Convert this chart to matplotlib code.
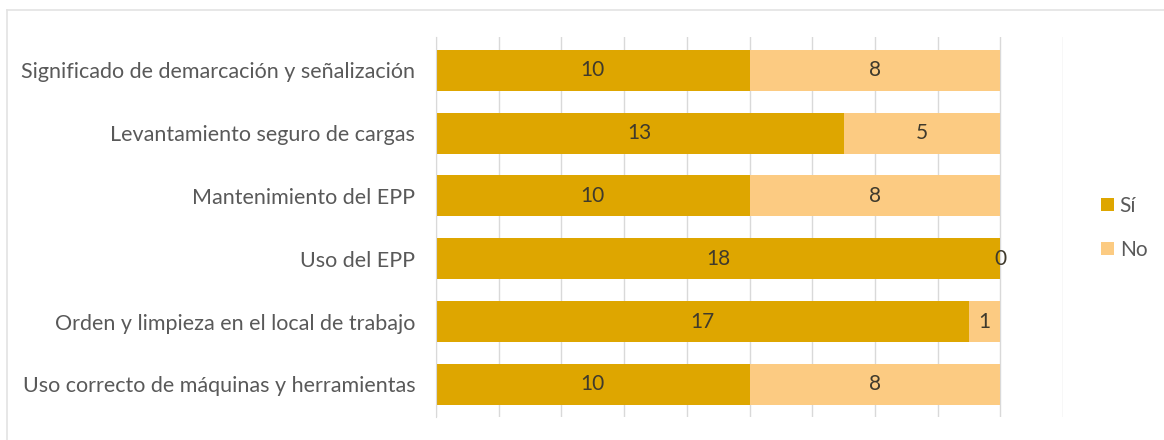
import matplotlib
matplotlib.use("Agg")
import matplotlib.pyplot as plt
from matplotlib.lines import Line2D
from matplotlib.patches import Patch
import numpy as np

categories = [
    "Significado de demarcación y señalización",
    "Levantamiento seguro de cargas",
    "Mantenimiento del EPP",
    "Uso del EPP",
    "Orden y limpieza en el local de trabajo",
    "Uso correcto de máquinas y herramientas",
]
si_values = [10, 13, 10, 18, 17, 10]
no_values = [8, 5, 8, 0, 1, 8]
series_names = ["Sí", "No"]

SI_COLOR = "#DEA600"
NO_COLOR = "#FCCB82"
TEXT_GRAY = "#595959"
VALUE_COLOR = "#3F3A2C"
GRID_COLOR = "#D9D9D9"

plt.rcParams["font.family"] = ["Lato", "DejaVu Sans"]

fig = plt.figure(figsize=(11.64, 4.40), dpi=100)
ax = fig.add_axes([436 / 1164, 23 / 440, 627 / 1164, 380 / 440])

y = np.arange(len(categories))
bar_h = 0.65
si = np.array(si_values)
no = np.array(no_values)

ax.barh(y, si, height=bar_h, color=SI_COLOR, label=series_names[0], zorder=2)
ax.barh(y, no, left=si, height=bar_h, color=NO_COLOR, label=series_names[1], zorder=2)

for yi, s, n in zip(y, si, no):
    ax.text(s / 2, yi, f"{s}", ha="center", va="center",
            fontsize=15, color=VALUE_COLOR, zorder=3)
    ax.text(s + n / 2, yi, f"{n}", ha="center", va="center",
            fontsize=15, color=VALUE_COLOR, zorder=3)

ax.set_xlim(0, 20)
ax.set_ylim(5.52, -0.53)
ax.set_xticks(np.arange(0, 21, 2))
ax.xaxis.grid(True, color=GRID_COLOR, linewidth=1.0, zorder=0)
ax.set_axisbelow(True)
ax.tick_params(axis="x", length=0, labelbottom=False)
ax.tick_params(axis="y", length=0, pad=15, labelsize=15.5, labelcolor=TEXT_GRAY)
ax.set_yticks(y)
ax.set_yticklabels(categories)
for side in ["top", "right", "bottom"]:
    ax.spines[side].set_visible(False)
ax.spines["left"].set_color(GRID_COLOR)

handles = [Patch(facecolor=SI_COLOR), Patch(facecolor=NO_COLOR)]
fig.legend(handles, series_names, loc="center left",
           bbox_to_anchor=(1101 / 1164, 1 - 228 / 440), frameon=False,
           borderpad=0, borderaxespad=0,
           fontsize=15, labelcolor=TEXT_GRAY, handlelength=0.6,
           handleheight=0.6, handletextpad=0.3, labelspacing=1.15)

# light frame along the top and left edges
fig.add_artist(Line2D([7 / 1164, 1.0], [1 - 10 / 440, 1 - 10 / 440],
                      color="#E3E3E3", linewidth=1.2))
fig.add_artist(Line2D([7 / 1164, 7 / 1164], [0.0, 1 - 10 / 440],
                      color="#E3E3E3", linewidth=1.2))

fig.savefig("out.png", dpi=100, facecolor="white")
